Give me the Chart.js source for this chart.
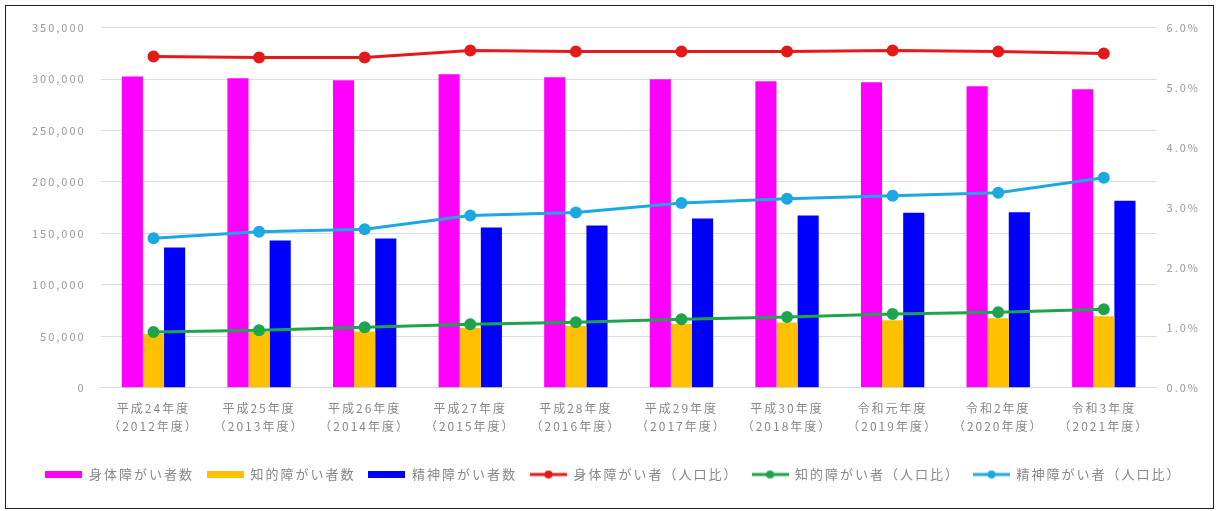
<!DOCTYPE html>
<html>
<head>
<meta charset="utf-8">
<script src="https://cdn.jsdelivr.net/npm/chart.js@4.4.1/dist/chart.umd.min.js"></script>
<style>
  html, body { margin: 0; padding: 0; background: #fff; }
  #box { position: absolute; left: 5px; top: 5px; width: 1207px; height: 502px; border: 1px solid #222; }
  #myChart { display: block; }
</style>
</head>
<body>
<div id="box"><canvas id="myChart" width="1207" height="502"></canvas></div>
<script>
var years = [
  ["平成24年度", "（2012年度）"], ["平成25年度", "（2013年度）"], ["平成26年度", "（2014年度）"],
  ["平成27年度", "（2015年度）"], ["平成28年度", "（2016年度）"], ["平成29年度", "（2017年度）"],
  ["平成30年度", "（2018年度）"], ["令和元年度", "（2019年度）"], ["令和2年度", "（2020年度）"],
  ["令和3年度", "（2021年度）"]
];
var physical = [302600, 300700, 298800, 304600, 301700, 299700, 297800, 296800, 293000, 290100];
var intellectual = [52200, 54100, 54600, 58000, 60000, 62000, 63500, 65700, 67700, 69600];
var mental = [136300, 143100, 145000, 155700, 157600, 164400, 167300, 170200, 170700, 181800];
var physicalRate = [5.52, 5.50, 5.50, 5.62, 5.60, 5.60, 5.60, 5.62, 5.60, 5.57];
var intellectualRate = [0.93, 0.96, 1.01, 1.06, 1.09, 1.14, 1.18, 1.23, 1.26, 1.31];
var mentalRate = [2.49, 2.60, 2.64, 2.87, 2.92, 3.08, 3.15, 3.20, 3.25, 3.50];

var font = "'Noto Sans CJK JP', 'Noto Sans', sans-serif";
Chart.defaults.font.family = font;
Chart.defaults.color = "#888";

// small legend icons
function barIcon(color) {
  var c = document.createElement("canvas");
  c.width = 37; c.height = 7;
  var g = c.getContext("2d");
  g.fillStyle = color;
  g.fillRect(0, 0, 37, 7);
  return c;
}
function lineIcon(color) {
  var c = document.createElement("canvas");
  c.width = 37; c.height = 10;
  var g = c.getContext("2d");
  g.strokeStyle = color;
  g.lineWidth = 3;
  g.beginPath(); g.moveTo(0, 5); g.lineTo(37, 5); g.stroke();
  g.fillStyle = color;
  g.beginPath(); g.arc(18.5, 5, 4, 0, Math.PI * 2); g.fill();
  return c;
}

var colors = ["#ff00ff", "#ffc000", "#0000ff", "#e41a1a", "#1ea44c", "#1ca9e1"];

// the original text is widely spaced
var spacing = {
  id: "spacing",
  beforeLayout: function (chart) { chart.ctx.letterSpacing = "2px"; },
  beforeDraw: function (chart) { chart.ctx.letterSpacing = "2px"; }
};

new Chart("myChart", {
  type: "bar",
  data: {
    labels: years,
    datasets: [
      { label: "身体障がい者数", data: physical, backgroundColor: colors[0], yAxisID: "y", order: 2,
        categoryPercentage: 0.6, barPercentage: 1.0 },
      { label: "知的障がい者数", data: intellectual, backgroundColor: colors[1], yAxisID: "y", order: 2,
        categoryPercentage: 0.6, barPercentage: 1.0 },
      { label: "精神障がい者数", data: mental, backgroundColor: colors[2], yAxisID: "y", order: 2,
        categoryPercentage: 0.6, barPercentage: 1.0 },
      { type: "line", label: "身体障がい者（人口比）", data: physicalRate, borderColor: colors[3],
        backgroundColor: colors[3], yAxisID: "y1", order: 1, borderWidth: 3, pointRadius: 4.5 },
      { type: "line", label: "知的障がい者（人口比）", data: intellectualRate, borderColor: colors[4],
        backgroundColor: colors[4], yAxisID: "y1", order: 1, borderWidth: 3, pointRadius: 4.5 },
      { type: "line", label: "精神障がい者（人口比）", data: mentalRate, borderColor: colors[5],
        backgroundColor: colors[5], yAxisID: "y1", order: 1, borderWidth: 3, pointRadius: 4.5 }
    ]
  },
  plugins: [spacing],
  options: {
    responsive: false,
    animation: false,
    layout: { padding: { left: 11, right: 3, top: 4, bottom: 17 } },
    plugins: {
      tooltip: { enabled: false },
      legend: {
        position: "bottom",
        labels: {
          usePointStyle: true,
          pointStyleWidth: 37,
          color: "#888",
          font: { size: 13 },
          padding: 13,
          generateLabels: function (chart) {
            var items = Chart.defaults.plugins.legend.labels.generateLabels(chart);
            items.sort(function (a, b) { return a.datasetIndex - b.datasetIndex; });
            items.forEach(function (it) {
              var i = it.datasetIndex;
              it.pointStyle = i < 3 ? barIcon(colors[i]) : lineIcon(colors[i]);
            });
            return items;
          }
        }
      }
    },
    scales: {
      x: {
        grid: { display: false },
        border: { color: "#d9d9d9" },
        ticks: { color: "#888", font: { size: 12, lineHeight: 1.55 }, maxRotation: 0, autoSkip: false, padding: 3 },
        afterFit: function (scale) { scale.height += 16; }
      },
      y: {
        position: "left",
        min: 0, max: 350000,
        ticks: { stepSize: 50000, color: "#999", font: { size: 11 }, padding: 15,
          callback: function (v) { return v.toLocaleString("en-US"); } },
        grid: { color: "#dcdcdc", drawTicks: false },
        border: { display: false }
      },
      y1: {
        position: "right",
        min: 0, max: 6,
        ticks: { stepSize: 1, color: "#999", font: { size: 11 }, padding: 10,
          callback: function (v) { return v.toFixed(1) + "%"; } },
        grid: { drawOnChartArea: false, drawTicks: false },
        border: { display: false }
      }
    }
  }
});
</script>
</body>
</html>
